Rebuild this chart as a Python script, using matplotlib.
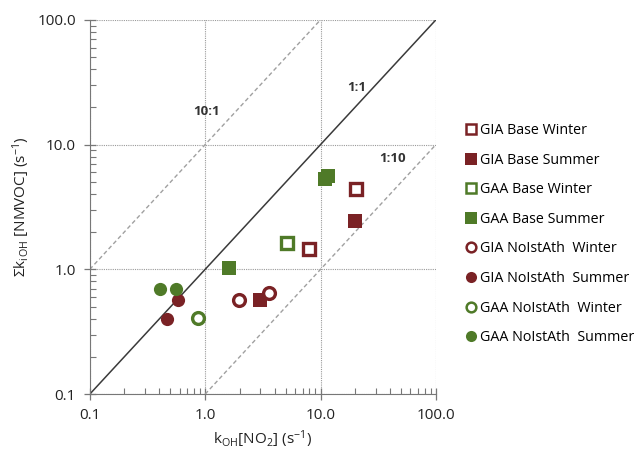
import matplotlib.pyplot as plt
import numpy as np
from matplotlib.ticker import FixedLocator, LogLocator, NullFormatter

plt.rcParams["font.family"] = ["Open Sans", "DejaVu Sans"]
plt.rcParams["mathtext.default"] = "regular"

BROWN = "#7a2225"
GREEN = "#4f7a28"

# series: label, x values, y values, marker, colour, filled
series_labels = [
    "GIA Base Winter",
    "GIA Base Summer",
    "GAA Base Winter",
    "GAA Base Summer",
    "GIA NoIstAth  Winter",
    "GIA NoIstAth  Summer",
    "GAA NoIstAth  Winter",
    "GAA NoIstAth  Summer",
]
series_x = [
    [20.3, 7.9],
    [20.0, 3.0],
    [5.1],
    [11.0, 11.5, 1.6],
    [1.96, 3.6],
    [0.58, 0.47],
    [0.86],
    [0.41, 0.56],
]
series_y = [
    [4.4, 1.46],
    [2.45, 0.57],
    [1.62],
    [5.3, 5.6, 1.03],
    [0.57, 0.65],
    [0.57, 0.40],
    [0.41],
    [0.70, 0.70],
]
series_marker = ["s", "s", "s", "s", "o", "o", "o", "o"]
series_color = [BROWN, BROWN, GREEN, GREEN, BROWN, BROWN, GREEN, GREEN]
series_filled = [False, True, False, True, False, True, False, True]

ratio_lines = [
    ("1:1", 1.0, (0.1, 100.0), (20.7, 28.5)),
    ("10:1", 10.0, (0.1, 10.0), (1.03, 18.3)),
    ("1:10", 0.1, (1.0, 100.0), (42.5, 7.7)),
]

fig = plt.figure(figsize=(6.41, 4.51), dpi=100)
ax = fig.add_axes([0.140, 0.126, 0.540, 0.830])

ax.set_xscale("log")
ax.set_yscale("log")
ax.set_xlim(0.1, 100)
ax.set_ylim(0.1, 100)

for name, factor, (x0, x1), (tx, ty) in ratio_lines:
    xs = np.array([x0, x1])
    if factor == 1.0:
        ax.plot(xs, xs * factor, color="#3a3a3a", lw=1.1, zorder=2)
    else:
        ax.plot(xs, xs * factor, color="#a0a0a0", lw=1.0,
                linestyle=(0, (3, 2)), zorder=2)
    ax.text(tx, ty, name, ha="center", va="center", fontsize=9.5,
            fontweight="bold", color="#333333")

for lab, xs, ys, mk, col, filled in zip(series_labels, series_x, series_y,
                                         series_marker, series_color,
                                         series_filled):
    ax.plot(xs, ys, linestyle="none", marker=mk, markersize=9.5 if filled else 8.5,
            markerfacecolor=col if filled else "white",
            markeredgecolor=col, markeredgewidth=2.4 if not filled else 0,
            label=lab, zorder=4)

ax.grid(True, which="major", color="#9a9a9a", linestyle=(0, (1, 1)), lw=0.8)
ax.set_axisbelow(True)

ticks = [0.1, 1.0, 10.0, 100.0]
tick_labels = ["0.1", "1.0", "10.0", "100.0"]
ax.xaxis.set_major_locator(FixedLocator(ticks))
ax.yaxis.set_major_locator(FixedLocator(ticks))
ax.set_xticklabels(tick_labels)
ax.set_yticklabels(tick_labels)
ax.xaxis.set_minor_locator(LogLocator(base=10, subs=np.arange(2, 10)))
ax.yaxis.set_minor_locator(LogLocator(base=10, subs=np.arange(2, 10)))
ax.xaxis.set_minor_formatter(NullFormatter())
ax.yaxis.set_minor_formatter(NullFormatter())
ax.tick_params(which="major", direction="inout", length=8, width=0.9,
               color="#777777", labelsize=11, labelcolor="#222222", pad=6)
ax.tick_params(which="minor", direction="in", length=4, width=0.8,
               color="#777777")

for side in ("top", "right"):
    ax.spines[side].set_visible(False)
for side in ("left", "bottom"):
    ax.spines[side].set_color("#777777")

ax.set_xlabel(r"k$_{OH}$[NO$_2$] (s$^{-1}$)", fontsize=11, color="#222222",
              labelpad=4)
ax.set_ylabel(r"Σk$_{i}$$_{OH}$ [NMVOC] (s$^{-1}$)", fontsize=11,
              color="#222222", labelpad=4)

leg_handles = []
for lab, mk, col, filled in zip(series_labels, series_marker, series_color,
                                 series_filled):
    leg_handles.append(plt.Line2D([], [], linestyle="none", marker=mk,
                                  markersize=8 if filled else 7,
                                  markerfacecolor=col if filled else "white",
                                  markeredgecolor=col,
                                  markeredgewidth=1.8 if not filled else 0,
                                  label=lab))
fig.legend(handles=leg_handles, loc="upper left",
           bbox_to_anchor=(0.718, 0.74), frameon=False, fontsize=10.3,
           handlelength=0.7, handletextpad=0.25, labelspacing=1.02,
           borderaxespad=0)

fig.savefig("out.png", dpi=100)
